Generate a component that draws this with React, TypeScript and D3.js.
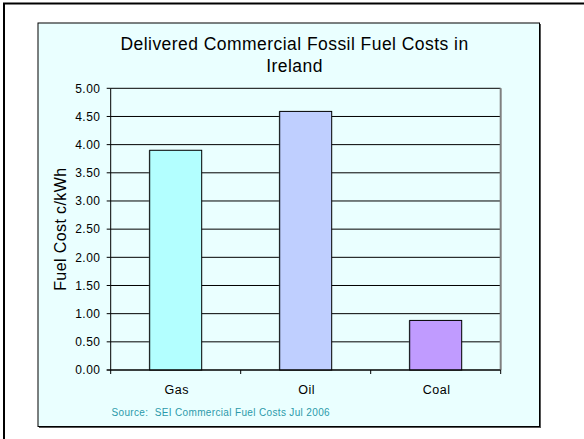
import React from "react";
import * as d3 from "d3";

const categories = ["Gas", "Oil", "Coal"];
const values = [3.9, 4.59, 0.88];
const barColors = ["#B3FFFF", "#BFCFFF", "#C09BFF"];
const yTicks = [0, 0.5, 1, 1.5, 2, 2.5, 3, 3.5, 4, 4.5, 5];
const titleLines = ["Delivered Commercial Fossil Fuel Costs in", "Ireland"];
const yLabel = "Fuel Cost c/kWh";
const sourceText = "Source:  SEI Commercial Fuel Costs Jul 2006";

export default function App() {
  const W = 584, H = 439;
  const plot = { left: 110.7, right: 500.7, top: 88.3, bottom: 370 };
  const x = d3.scaleBand<string>().domain(categories).range([plot.left, plot.right]).paddingInner(0.6).paddingOuter(0.3);
  const xBand = d3.scaleBand<string>().domain(categories).range([plot.left, plot.right]);
  const y = d3.scaleLinear().domain([0, 5]).range([plot.bottom, plot.top]);
  const font = "Arial, 'Liberation Sans', Helvetica, sans-serif";
  return (
    <svg width={W} height={H} style={{ position: "absolute", left: 0, top: 0 }} fontFamily={font}>
      <rect x={0} y={0} width={W} height={H} fill="#fff" />
      {/* outer slide frame */}
      <rect x={4} y={3.5} width={700} height={600} fill="none" stroke="#000" strokeWidth={2} />
      {/* chart area */}
      <rect x={39} y={24} width={502} height={404} fill="#555" />
      <rect x={38} y={23} width={501.5} height={403.5} fill="#EAFFFF" stroke="#000" strokeWidth={1} />
      {titleLines.map((t, i) => (
        <text key={i} x={294.5} y={49.5 + i * 22.4} textAnchor="middle" fontSize={17.5} letterSpacing={0.45} fill="#000">{t}</text>
      ))}
      {/* gridlines */}
      {yTicks.map((v) => (
        <line key={v} x1={plot.left} x2={plot.right} y1={y(v)} y2={y(v)} stroke="#000" strokeWidth={1} />
      ))}
      {/* right border of plot */}
      <line x1={plot.right} x2={plot.right} y1={plot.top} y2={plot.bottom} stroke="#808080" strokeWidth={2} />
      {/* bars */}
      {categories.map((c, i) => (
        <g key={c}>
          <rect x={x(c)! - 1} y={y(values[i])} width={x.bandwidth() + 1} height={plot.bottom - y(values[i])} fill="#6f8080" opacity={0.6} />
          <rect x={x(c)!} y={y(values[i])} width={x.bandwidth()} height={plot.bottom - y(values[i])} fill={barColors[i]} stroke="#000" strokeWidth={1} />
        </g>
      ))}
      {/* axes */}
      <line x1={plot.left} x2={plot.left} y1={plot.top} y2={plot.bottom} stroke="#000" strokeWidth={1} />
      <line x1={plot.left - 4} x2={plot.right} y1={plot.bottom} y2={plot.bottom} stroke="#000" strokeWidth={1} />
      {yTicks.map((v) => (
        <g key={"t" + v}>
          <line x1={plot.left - 4} x2={plot.left} y1={y(v)} y2={y(v)} stroke="#000" />
          <text x={100.5} y={y(v) + 4.3} textAnchor="end" fontSize={12} letterSpacing={0.5} fill="#000">{d3.format(".2f")(v)}</text>
        </g>
      ))}
      {categories.map((c, i) => (
        <g key={"c" + c}>
          <line x1={xBand(c)!} x2={xBand(c)!} y1={plot.bottom} y2={plot.bottom + 4} stroke="#000" />
          <text x={xBand(c)! + xBand.bandwidth() / 2 + 1} y={394} textAnchor="middle" fontSize={12.5} letterSpacing={0.5} fill="#000">{c}</text>
        </g>
      ))}
      <line x1={plot.right} x2={plot.right} y1={plot.bottom} y2={plot.bottom + 4} stroke="#000" />
      <text transform={`translate(66,${(plot.top + plot.bottom) / 2}) rotate(-90)`} textAnchor="middle" fontSize={16} letterSpacing={0.4} fill="#000">{yLabel}</text>
      <text x={111.5} y={416} fontSize={10} letterSpacing={0.35} fill="#2A9AAA" style={{ whiteSpace: "pre" }}>{sourceText}</text>
    </svg>
  );
}
